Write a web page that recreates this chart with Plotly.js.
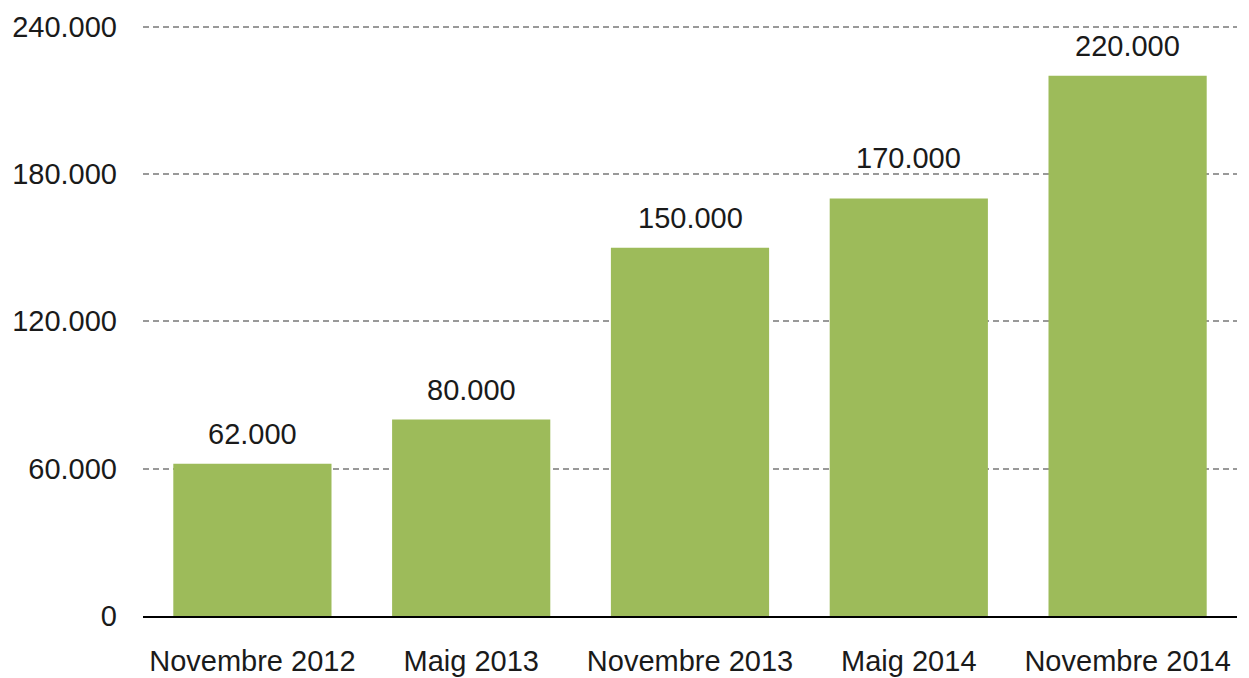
<!DOCTYPE html>
<html>
<head>
<meta charset="utf-8">
<script src="https://cdn.plot.ly/plotly-3.0.1.min.js"></script>
<style>
  html, body { margin: 0; padding: 0; background: #fff; }
  #chart { width: 1249px; height: 678px; }
</style>
</head>
<body>
<div id="chart"></div>
<script>
const periods = ["Novembre 2012", "Maig 2013", "Novembre 2013", "Maig 2014", "Novembre 2014"];
const counts = [62000, 80000, 150000, 170000, 220000];
const tickValues = [0, 60000, 120000, 180000, 240000];
const tickLabels = ["0", "60.000", "120.000", "180.000", "240.000"];

const FONT = "Helvetica Neue, Liberation Sans, Arial, sans-serif";
const WIDTH = 1249;
const HEIGHT = 678;
const MARGIN = { l: 143, r: 12, t: 23, b: 62 };
const Y_MAX = 241500;
const LABEL_GAP = 12;

function dotted(n) {
  return n.toLocaleString("de-DE");
}

// Push a value label up when its digits would sit on a gridline.
function labelShift(value) {
  const pxPerUnit = (HEIGHT - MARGIN.t - MARGIN.b) / Y_MAX;
  const bottom = value * pxPerUnit + 20;
  const top = bottom + 22;
  for (const tick of tickValues) {
    const line = tick * pxPerUnit;
    if (line > bottom - 2 && line < top) {
      return LABEL_GAP + (line + 6 - bottom);
    }
  }
  return LABEL_GAP;
}

const trace = {
  type: "bar",
  x: periods,
  y: counts,
  marker: { color: "#9dbb5a" },
  hoverinfo: "x+y",
};

const labels = periods.map((period, i) => ({
  x: period,
  y: counts[i],
  text: dotted(counts[i]),
  showarrow: false,
  yanchor: "bottom",
  yshift: labelShift(counts[i]),
  font: { family: FONT, size: 29, color: "#1a1a1a" },
}));

const layout = {
  width: WIDTH,
  height: HEIGHT,
  margin: MARGIN,
  paper_bgcolor: "#fff",
  plot_bgcolor: "#fff",
  bargap: 0.277,
  showlegend: false,
  font: { family: FONT, size: 29, color: "#1a1a1a" },
  xaxis: {
    showline: true,
    linecolor: "#000",
    linewidth: 2,
    ticks: "",
    showgrid: false,
    ticklabelstandoff: 18,
    tickfont: { family: FONT, size: 29, color: "#1a1a1a" },
  },
  yaxis: {
    // a little headroom so the 240.000 gridline is not dropped at the edge
    range: [0, Y_MAX],
    tickvals: tickValues,
    ticktext: tickLabels,
    showgrid: true,
    gridcolor: "#999999",
    gridwidth: 2,
    griddash: "6px,4px",
    zeroline: false,
    showline: false,
    ticks: "",
    ticklabelstandoff: 25,
    tickfont: { family: FONT, size: 29, color: "#1a1a1a" },
  },
  annotations: labels,
};

Plotly.newPlot("chart", [trace], layout, { displayModeBar: false, staticPlot: true });
</script>
</body>
</html>
